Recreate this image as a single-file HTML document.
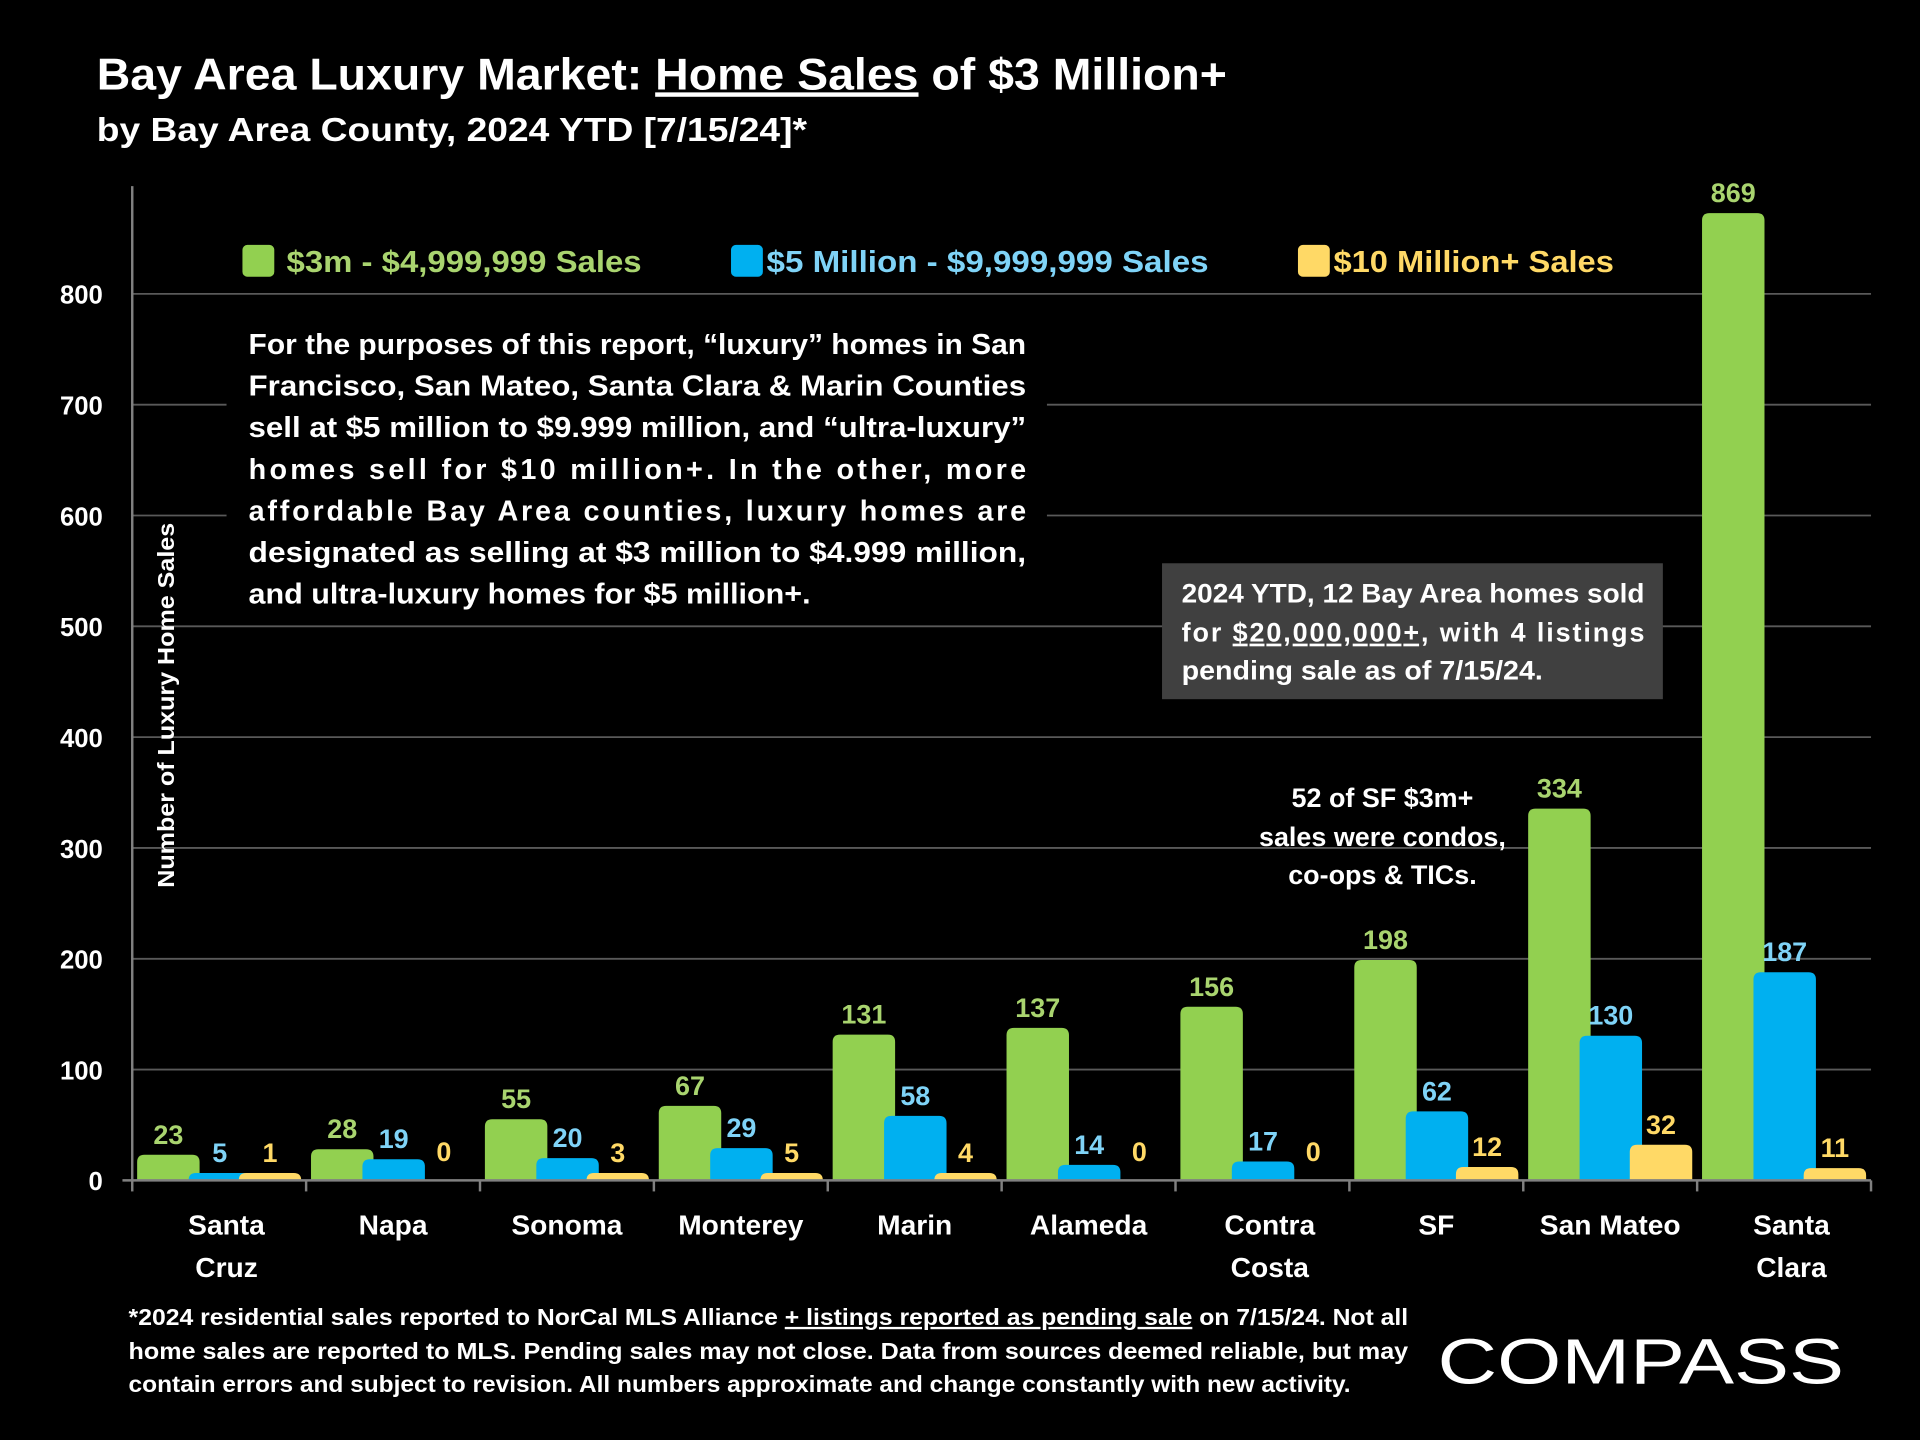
<!DOCTYPE html>
<html><head><meta charset="utf-8"><style>
html,body{margin:0;padding:0;background:#000;width:1920px;height:1440px;overflow:hidden}
#wrap{position:absolute;left:0;top:0;width:1568px;height:1176px;transform:scale(1.22449);transform-origin:0 0;font-family:"Liberation Sans",sans-serif;font-weight:bold;color:#fff}
</style></head><body>
<div id="wrap">
<svg id="svg" width="1568" height="1176" viewBox="0 0 1568 1176" xmlns="http://www.w3.org/2000/svg" style="position:absolute;left:0;top:0;font-family:'Liberation Sans',sans-serif;font-weight:bold">
<text x="79" y="73" font-size="36" fill="#fff" textLength="923" lengthAdjust="spacingAndGlyphs">Bay Area Luxury Market: <tspan text-decoration="underline">Home Sales</tspan> of $3 Million+</text>
<text x="79" y="115" font-size="27" fill="#fff" textLength="580" lengthAdjust="spacingAndGlyphs">by Bay Area County, 2024 YTD [7/15/24]*</text>
<g id="grid"></g>
<rect x="185" y="262" width="670" height="244" fill="#000"/>
<g font-size="23.5" fill="#fff">
<text x="203" y="289" textLength="635" lengthAdjust="spacingAndGlyphs">For the purposes of this report, “luxury” homes in San</text>
<text x="203" y="323" textLength="635" lengthAdjust="spacingAndGlyphs">Francisco, San Mateo, Santa Clara &amp; Marin Counties</text>
<text x="203" y="357" textLength="635" lengthAdjust="spacingAndGlyphs">sell at $5 million to $9.999 million, and “ultra-luxury”</text>
<text x="203" y="391" textLength="635" lengthAdjust="spacing">homes sell for $10 million+. In the other, more</text>
<text x="203" y="425" textLength="635" lengthAdjust="spacing">affordable Bay Area counties, luxury homes are</text>
<text x="203" y="459" textLength="635" lengthAdjust="spacingAndGlyphs">designated as selling at $3 million to $4.999 million,</text>
<text x="203" y="493" textLength="459" lengthAdjust="spacingAndGlyphs">and ultra-luxury homes for $5 million+.</text>
</g>
<g id="bars"></g>
<g id="axes"></g>
<text transform="translate(142,576) rotate(-90)" text-anchor="middle" font-size="19" fill="#fff" textLength="298" lengthAdjust="spacingAndGlyphs">Number of Luxury Home Sales</text>
<g>
<rect x="198" y="200" width="26" height="26" rx="4" fill="#92d050"/>
<text x="234" y="222" font-size="25" fill="#a9d46f" textLength="290" lengthAdjust="spacingAndGlyphs">$3m - $4,999,999 Sales</text>
<rect x="597" y="200" width="26" height="26" rx="4" fill="#00b0f0"/>
<text x="626" y="222" font-size="25" fill="#7fd3f7" textLength="361" lengthAdjust="spacingAndGlyphs">$5 Million - $9,999,999 Sales</text>
<rect x="1060" y="200" width="26" height="26" rx="4" fill="#ffd966"/>
<text x="1089" y="222" font-size="25" fill="#ffd966" textLength="229" lengthAdjust="spacingAndGlyphs">$10 Million+ Sales</text>
</g>
<rect x="949" y="460" width="409" height="111" fill="#404040"/>
<g font-size="22" fill="#fff">
<text x="965" y="492" textLength="378" lengthAdjust="spacingAndGlyphs">2024 YTD, 12 Bay Area homes sold</text>
<text x="965" y="524" textLength="378" lengthAdjust="spacing">for <tspan text-decoration="underline">$20,000,000+</tspan>, with 4 listings</text>
<text x="965" y="555" textLength="295" lengthAdjust="spacingAndGlyphs">pending sale as of 7/15/24.</text>
</g>
<g font-size="22" fill="#fff" text-anchor="middle">
<text x="1129" y="659">52 of SF $3m+</text>
<text x="1129" y="691">sales were condos,</text>
<text x="1129" y="722">co-ops &amp; TICs.</text>
</g>
<g font-size="19" fill="#fff">
<text x="105" y="1082" textLength="1045" lengthAdjust="spacingAndGlyphs">*2024 residential sales reported to NorCal MLS Alliance <tspan text-decoration="underline">+ listings reported as pending sale</tspan> on 7/15/24. Not all</text>
<text x="105" y="1110" textLength="1045" lengthAdjust="spacingAndGlyphs">home sales are reported to MLS. Pending sales may not close. Data from sources deemed reliable, but may</text>
<text x="105" y="1137" textLength="998" lengthAdjust="spacingAndGlyphs">contain errors and subject to revision. All numbers approximate and change constantly with new activity.</text>
</g>
<text x="1174" y="1130" font-size="52" font-weight="normal" fill="#fff" textLength="332" lengthAdjust="spacingAndGlyphs">COMPASS</text>
</svg>
</div>
<script>
const categories = [["Santa","Cruz"],["Napa"],["Sonoma"],["Monterey"],["Marin"],["Alameda"],["Contra","Costa"],["SF"],["San Mateo"],["Santa","Clara"]];
const sales3m = [23,28,55,67,131,137,156,198,334,869];
const sales5m = [5,19,20,29,58,14,17,62,130,187];
const sales10m = [1,0,3,5,4,0,0,12,32,11];
const yTicks = [0,100,200,300,400,500,600,700,800];

const NS="http://www.w3.org/2000/svg";
const x0=108,x1=1528,y0=964,pxPer=0.905,barPx=0.909;
const gw=(x1-x0)/categories.length;
function y(v){return y0-v*pxPer;}
function gx(i){return x0+i*gw;}
function mk(tag,attrs,parent,txt){const e=document.createElementNS(NS,tag);for(const k in attrs)e.setAttribute(k,attrs[k]);if(txt!==undefined)e.textContent=txt;parent.appendChild(e);return e;}
const grid=document.getElementById('grid'),bars=document.getElementById('bars'),axes=document.getElementById('axes');
yTicks.forEach(t=>{
  if(t>0){const l=mk('line',{x1:x0,x2:x1,y1:y(t),y2:y(t),stroke:'#595959','stroke-width':1.5},grid);
  
  }
  const tx=mk('text',{x:84,y:y(t)+8,'text-anchor':'end','font-size':21,fill:'#fff'},axes,String(t));
  
  
});
mk('line',{x1:x0,x2:x0,y1:152,y2:y0,stroke:'#808080','stroke-width':2},axes);
mk('line',{x1:x0-8,x2:x1,y1:y0,y2:y0,stroke:'#808080','stroke-width':2},axes);
const series=[{d:sales3m,c:'#92d050',lc:'#a9d46f',off:4,n:'3m'},{d:sales5m,c:'#00b0f0',lc:'#7fd3f7',off:46,n:'5m'},{d:sales10m,c:'#ffd966',lc:'#ffd966',off:87,n:'10m'}];
const bw=51;
function barPath(x,top,w,h){const r=Math.min(6,h);return `M${x},${y0} L${x},${top+r} Q${x},${top} ${x+r},${top} L${x+w-r},${top} Q${x+w},${top} ${x+w},${top+r} L${x+w},${y0} Z`;}
series.forEach(s=>{
  s.d.forEach((v,i)=>{
    const bx=gx(i)+s.off;
    const h=Math.max(v*barPx,6);
    if(v>0){
      const p=mk('path',{d:barPath(bx,y0-h,bw,h),fill:s.c},bars);
      
      
    }
    const t=mk('text',{x:bx+bw/2,y:v>0?y0-h-9:y0-16,'text-anchor':'middle','font-size':22,fill:s.lc},bars,String(v));
    
    
  });
});
categories.forEach((c,i)=>{
  mk('line',{x1:gx(i),x2:gx(i),y1:y0,y2:y0+9,stroke:'#808080','stroke-width':2},axes);
  c.forEach((line,j)=>{
    const t=mk('text',{x:gx(i)+gw/2+(c.length>1?6:0),y:1008+j*35,'text-anchor':'middle','font-size':23,fill:'#fff'},axes,line);
    
    
  });
});
mk('line',{x1:x1,x2:x1,y1:y0,y2:y0+9,stroke:'#808080','stroke-width':2},axes);
</script>
</body></html>
